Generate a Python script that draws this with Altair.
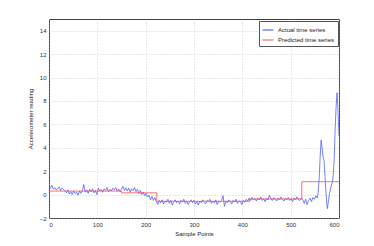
import altair as alt
import pandas as pd

# Actual time series (sample index, accelerometer reading)
actual_x = list(range(0, 556, 3)) + [557, 559, 561, 563, 565, 567, 569, 571, 573, 575, 576,
                                     578, 580, 582, 584, 586, 588, 590, 592, 594, 596, 598, 600]
actual_y = [
    # 0-147
    0.35, 0.55, 0.8, 0.45, 0.6, 0.4, 0.5, 0.65, 0.35, 0.55, 0.45, 0.3, 0.15, 0.4, 0.05,
    0.25, 0.0, 0.3, 0.1, 0.2, -0.05, 0.3, 0.1, 0.35, 0.85, 0.2, 0.4, 0.1, 0.45, 0.25,
    0.5, 0.15, 0.35, 0.0, 0.55, 0.3, 0.45, 0.2, 0.5, 0.35, 0.6, 0.25, 0.45, 0.3, 0.55,
    0.4, 0.6, 0.3, 0.5, 0.25,
    # 150-222
    0.45, 0.7, 0.35, 0.6, 0.3, 0.55, 0.2, 0.5, 0.35, 0.6, 0.25, 0.45, 0.1, 0.35, 0.0,
    0.2, -0.1, 0.1, -0.2, -0.05, -0.45, -0.15, -0.5, -0.25, -0.6,
    # 225-411
    -0.85, -0.5, -0.7, -0.45, -0.8, -0.55, -0.65, -0.4, -0.75, -0.5, -0.9, -0.6, -0.45,
    -0.7, -0.55, -0.8, -0.5, -0.65, -0.4, -0.75, -0.55, -0.85, -0.6, -0.45, -0.7, -0.5,
    -0.8, -0.6, -0.9, -0.55, -0.7, -0.45, -0.65, -0.8, -0.5, -0.6, -0.4, -0.75, -0.55,
    -0.7, -0.45, -0.85, -0.55, -0.65, -0.5, -0.1, -1.0, -0.55, -0.7, -0.45, -0.6, -0.8,
    -0.5, -0.65, -0.4, -0.75, -0.55, -0.6, -0.85, -0.5, -0.65, -0.4, -0.55,
    # 414-522
    -0.3, -0.5, -0.25, -0.45, -0.35, -0.55, -0.3, -0.45, -0.2, -0.5, -0.35, -0.6, -0.3,
    -0.45, -0.05, -0.35, -0.5, -0.25, -0.4, -0.55, -0.3, -0.45, -0.2, -0.4, -0.55, -0.3,
    -0.45, -0.25, -0.5, -0.35, -0.6, -0.3, -0.45, -0.2, -0.4, -0.5, -0.3,
    # 525-555
    -0.45, -0.75, -0.4, -0.85, -0.5, -0.3, -0.6, -0.25, -0.4, -0.1, -0.3,
    # 557-600
    0.2, 1.4, 3.2, 4.65, 4.0, 3.2, 2.9, 1.6, 0.2, -0.9, -1.2,
    -0.6, 0.0, 0.4, 0.8, 1.0, 1.6, 3.0, 5.5, 7.5, 8.7, 7.0, 5.0,
]

# Predicted time series: step levels
pred_x = [0, 150, 223, 415, 523, 600]
pred_y = [0.3, 0.15, -0.57, -0.38, 1.1, 1.1]

series_names = ["Actual time series", "Predicted time series"]
series_colors = ["#3a4dff", "#ff4a4a"]

x_ticks = [0, 100, 200, 300, 400, 500, 600]
y_ticks = [-2, 0, 2, 4, 6, 8, 10, 12, 14]

df_actual = pd.DataFrame({"x": actual_x, "y": actual_y, "series": series_names[0]})
df_pred = pd.DataFrame({"x": pred_x, "y": pred_y, "series": series_names[1]})

FONT = "Liberation Sans"

x_enc = alt.X("x:Q", scale=alt.Scale(domain=[0, 600], nice=False),
              axis=alt.Axis(values=x_ticks, title="Sample Points"))
y_enc = alt.Y("y:Q", scale=alt.Scale(domain=[-2, 15], nice=False, zero=False),
              axis=alt.Axis(values=y_ticks, title="Accelerometer reading"))
color_enc = alt.Color("series:N",
                      scale=alt.Scale(domain=series_names, range=series_colors),
                      legend=alt.Legend(title=None, orient="none", legendX=210, legendY=2,
                                        symbolType="stroke", symbolStrokeWidth=1,
                                        symbolSize=120, labelFontSize=6, labelFont=FONT,
                                        fillColor="white", strokeColor="#555555",
                                        padding=3, rowPadding=1, labelLimit=200,
                                        labelColor="#222222"))

actual = alt.Chart(df_actual).mark_line(strokeWidth=0.7).encode(
    x=x_enc, y=y_enc, color=color_enc)
pred = alt.Chart(df_pred).mark_line(strokeWidth=0.8, interpolate="step-after").encode(
    x=x_enc, y=y_enc, color=color_enc)

chart = alt.layer(actual, pred).properties(
    width=290, height=199,
    autosize=alt.AutoSizeParams(type="none"),
    padding={"left": 41, "top": 11, "right": 20, "bottom": 20},
).configure_view(
    stroke="#404040", strokeWidth=1
).configure_axis(
    grid=True, gridDash=[1, 2], gridColor="#b0b0b0", gridWidth=0.6,
    domain=False, ticks=False, labelPadding=3,
    labelFont=FONT, labelFontSize=6, labelColor="#333333",
    titleFont=FONT, titleFontSize=6, titleFontWeight="normal", titleColor="#222222",
).configure_axisX(titlePadding=3).configure_axisY(titlePadding=6)

chart.save("out.html", embed_options={"renderer": "svg", "actions": False})
